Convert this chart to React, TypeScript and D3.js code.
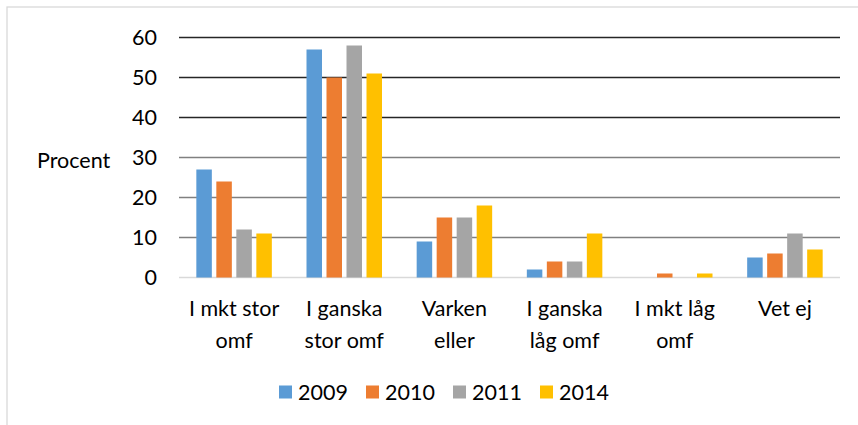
import React from "react";
import * as d3 from "d3";

const categories: string[][] = [
  ["I mkt stor", "omf"],
  ["I ganska", "stor omf"],
  ["Varken", "eller"],
  ["I ganska", "låg omf"],
  ["I mkt låg", "omf"],
  ["Vet ej"],
];
const seriesNames = ["2009", "2010", "2011", "2014"];
const v2009 = [27, 57, 9, 2, 0, 5];
const v2010 = [24, 50, 15, 4, 1, 6];
const v2011 = [12, 58, 15, 4, 0, 11];
const v2014 = [11, 51, 18, 11, 1, 7];
const yTicks = [0, 10, 20, 30, 40, 50, 60];
const colors = ["#5B9BD5", "#ED7D31", "#A5A5A5", "#FFC000"];
const gridColors = ["#D9D9D9", "#808080", "#808080", "#808080", "#262626", "#262626", "#262626"];

const W = 858;
const H = 425;
const FONT = "Lato, 'Open Sans', sans-serif";
const FS = 21.5;

export default function App() {
  const series = [v2009, v2010, v2011, v2014];
  const left = 179;
  const right = 840;
  const x = d3.scaleBand<number>().domain(d3.range(categories.length)).range([left, right]).padding(0);
  const y = d3.scaleLinear().domain([0, 60]).range([277.5, 37.5]);
  const pitch = 20;
  const barW = 15.5;
  const groupW = pitch * 3 + barW;

  return (
    <div style={{ position: "absolute", left: 0, top: 0 }}>
      <svg width={W} height={H} style={{ display: "block", fontFamily: FONT }}>
        <rect x={0} y={0} width={W} height={H} fill="#fff" />
        <rect x={7} y={7} width={W + 20} height={H + 20} fill="#fff" stroke="#D9D9D9" strokeWidth={1.3} />
        {yTicks.map((t, i) => (
          <g key={t}>
            <line x1={left} x2={right} y1={y(t)} y2={y(t)} stroke={gridColors[i]} strokeWidth={1.3} />
            <text x={157} y={y(t)} dy="0.36em" textAnchor="end" fontSize={FS} fill="#000">
              {t}
            </text>
          </g>
        ))}
        <text x={37} y={160} dy="0.36em" fontSize={FS} fill="#000">
          Procent
        </text>
        {categories.map((c, ci) => {
          const cx = (x(ci) as number) + x.bandwidth() / 2;
          return (
            <g key={ci}>
              {series.map((s, si) => {
                const bx = cx - groupW / 2 + si * pitch;
                return (
                  <rect
                    key={si}
                    x={bx}
                    y={y(s[ci])}
                    width={barW}
                    height={y(0) - y(s[ci])}
                    fill={colors[si]}
                  />
                );
              })}
              {c.map((line, li) => (
                <text key={li} x={cx} y={315.5 + li * 32} textAnchor="middle" fontSize={FS} fill="#000">
                  {line}
                </text>
              ))}
            </g>
          );
        })}
        {seriesNames.map((n, i) => {
          const lx = 279 + i * 87;
          return (
            <g key={n}>
              <rect x={lx} y={385.5} width={13} height={13} fill={colors[i]} />
              <text x={lx + 19} y={392} dy="0.36em" fontSize={FS} fill="#000">
                {n}
              </text>
            </g>
          );
        })}
      </svg>
    </div>
  );
}
